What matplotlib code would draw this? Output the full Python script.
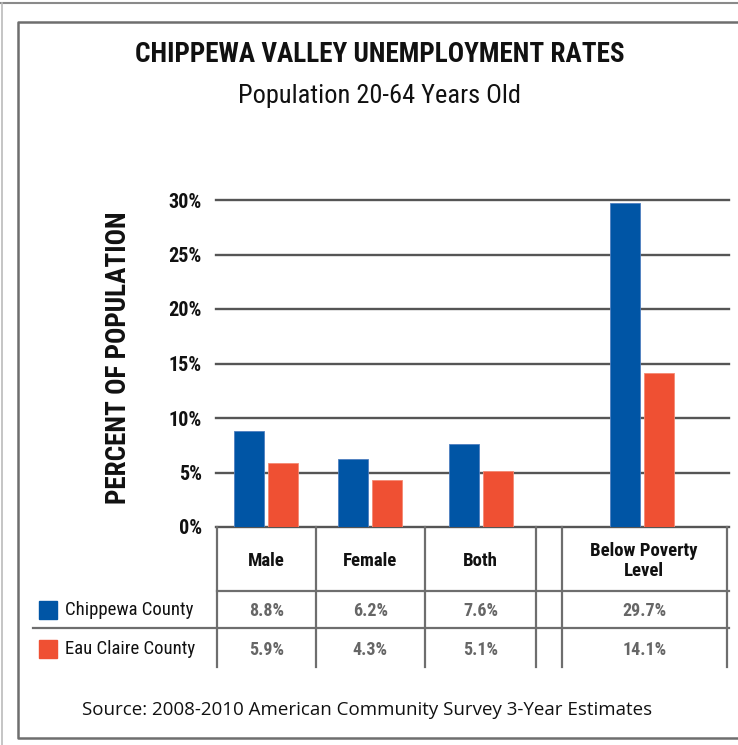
import matplotlib
matplotlib.use("Agg")
import matplotlib.pyplot as plt
from matplotlib import font_manager
from matplotlib.patches import Rectangle

# unemployment rates (%), population 20-64
categories = ["Male", "Female", "Both", "Below Poverty\nLevel"]
chippewa = [8.8, 6.2, 7.6, 29.7]
eau_claire = [5.9, 4.3, 5.1, 14.1]
series_names = ["Chippewa County", "Eau Claire County"]
y_ticks = [0, 5, 10, 15, 20, 25, 30]

BLUE = "#0055a5"
ORANGE = "#ef5033"
GRID = "#555555"
RULE = "#6e6e6e"

# pick a condensed face if one is around
installed = {f.name for f in font_manager.fontManager.ttflist}
NARROW = next((n for n in ["Roboto Condensed", "Liberation Sans Narrow",
                           "DejaVu Sans Condensed"] if n in installed), "DejaVu Sans")
SOURCE_FONT = "Open Sans" if "Open Sans" in installed else "DejaVu Sans"

W, H = 738, 745
fig = plt.figure(figsize=(W / 100, H / 100), dpi=100)

# background layer in pixel units (y down) for frame, table and text
bg = fig.add_axes([0, 0, 1, 1])
bg.set_xlim(0, W)
bg.set_ylim(H, 0)
bg.axis("off")

# frames
bg.plot([0, W], [3, 3], color="#8a8a8a", lw=1.5)
bg.plot([1.5, 1.5], [3, H], color="#bbbbbb", lw=1.2)
bg.plot([W + 5, 17.5, 17.5, W + 5], [22, 22, 738, 738], color=RULE, lw=1.8)

# titles
bg.text(380, 54, "CHIPPEWA VALLEY UNEMPLOYMENT RATES", ha="center", va="center",
        family=NARROW, weight="bold", fontsize=19.5, color="#111111")
bg.text(380, 96, "Population 20-64 Years Old", ha="center", va="center",
        family=NARROW, fontsize=19, color="#111111")

# chart area
left, right, top, base = 217, 729, 200, 527
ax = fig.add_axes([left / W, 1 - base / H, (right - left) / W, (base - top) / H])
ax.set_facecolor("none")
ax.set_xlim(left, right)
ax.set_ylim(0, 30)
for s in ax.spines.values():
    s.set_visible(False)
ax.set_xticks([])
ax.set_yticks(y_ticks)
ax.set_yticklabels([f"{t}%" for t in y_ticks], family=NARROW, weight="bold",
                   fontsize=14.5, color="#111111")
ax.tick_params(axis="y", length=0, pad=11)
for t in y_ticks[1:]:
    ax.axhline(t, xmin=-0.002, color=GRID, lw=1.7, zorder=1, clip_on=False)

ax.set_ylabel("PERCENT OF POPULATION", family=NARROW, weight="bold", fontsize=19.5,
              color="#111111", labelpad=0)
ax.yaxis.set_label_coords(-(left - 132) / (right - left), 0.517)

# table column edges (px) and category centres
col_edges = [217, 315.5, 425, 536, 561.5, 727]
centres = [(col_edges[0] + col_edges[1]) / 2, (col_edges[1] + col_edges[2]) / 2,
           (col_edges[2] + col_edges[3]) / 2, (col_edges[4] + col_edges[5]) / 2 - 2]
bar_w = 30
ax.bar([c - 17 for c in centres], chippewa, width=bar_w, color=BLUE,
       edgecolor="#4f7fc0", lw=0.6, zorder=3)
ax.bar([c + 17 for c in centres], eau_claire, width=bar_w, color=ORANGE,
       edgecolor="#f58a73", lw=0.6, zorder=3)

# table rules
row_top, row_head, row_mid, row_end = 527, 591, 628, 667
bg.plot([216, 729], [row_top, row_top], color=GRID, lw=1.7)
bg.plot([217, 729], [row_head, row_head], color=RULE, lw=1.6)
bg.plot([33, 729], [row_mid, row_mid], color=RULE, lw=1.6)
for x in col_edges:
    bg.plot([x, x], [row_top, row_end], color=RULE, lw=1.6)

# header + values
head_centres = [(col_edges[i] + col_edges[i + 1]) / 2 for i in (0, 1, 2, 4)]
for xc, name in zip(head_centres, categories):
    bg.text(xc, 561, name, ha="center", va="center", family=NARROW,
            weight="bold", fontsize=13.5, color="#111111", linespacing=1.2)
for row_y, vals in ((611, chippewa), (650, eau_claire)):
    for xc, v in zip(head_centres, vals):
        bg.text(xc, row_y, f"{v}%", ha="center", va="center", family=NARROW,
                weight="bold", fontsize=13, color="#666666")

# legend column
for row_y, name, col in ((610, series_names[0], BLUE), (649, series_names[1], ORANGE)):
    bg.add_patch(Rectangle((39, row_y - 9), 17.5, 18, color=col))
    bg.text(65, row_y, name, ha="left", va="center", family=NARROW,
            fontsize=13.5, color="#111111")

bg.text(367, 710, "Source: 2008-2010 American Community Survey 3-Year Estimates",
        ha="center", va="center", family=SOURCE_FONT, fontsize=13.5, color="#111111")

fig.savefig("out.png", dpi=100)
